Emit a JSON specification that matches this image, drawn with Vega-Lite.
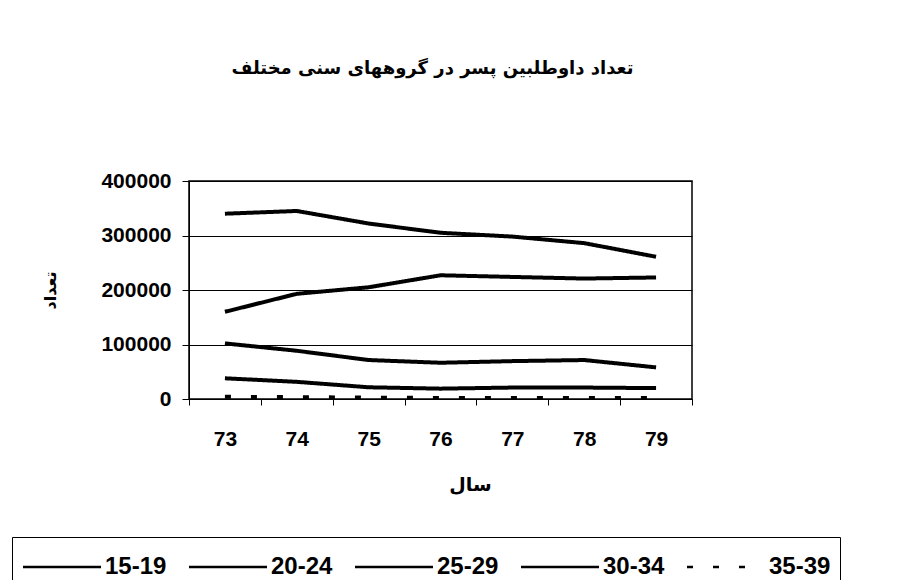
{
  "$schema": "https://vega.github.io/schema/vega-lite/v6.json",
  "width": 503,
  "height": 218,
  "autosize": {"type": "none"},
  "padding": {"left": 189, "top": 181, "right": 229, "bottom": 181},
  "background": "white",
  "config": {
    "view": {"stroke": "black", "strokeWidth": 1.5},
    "font": "Liberation Sans"
  },
  "title": {
    "text": "تعداد داوطلبین پسر در گروههای سنی مختلف",
    "font": "DejaVu Sans",
    "fontSize": 18,
    "fontWeight": "bold",
    "color": "black",
    "anchor": "middle",
    "frame": "group",
    "offset": 92,
    "dx": -8
  },
  "data": {
    "values": [
      {"year": "73", "group": "15-19", "count": 340000},
      {"year": "74", "group": "15-19", "count": 345000},
      {"year": "75", "group": "15-19", "count": 322000},
      {"year": "76", "group": "15-19", "count": 305000},
      {"year": "77", "group": "15-19", "count": 298000},
      {"year": "78", "group": "15-19", "count": 286000},
      {"year": "79", "group": "15-19", "count": 261000},
      {"year": "73", "group": "20-24", "count": 160000},
      {"year": "74", "group": "20-24", "count": 193000},
      {"year": "75", "group": "20-24", "count": 205000},
      {"year": "76", "group": "20-24", "count": 227000},
      {"year": "77", "group": "20-24", "count": 224000},
      {"year": "78", "group": "20-24", "count": 221000},
      {"year": "79", "group": "20-24", "count": 223000},
      {"year": "73", "group": "25-29", "count": 102000},
      {"year": "74", "group": "25-29", "count": 88500},
      {"year": "75", "group": "25-29", "count": 71500},
      {"year": "76", "group": "25-29", "count": 66500},
      {"year": "77", "group": "25-29", "count": 69500},
      {"year": "78", "group": "25-29", "count": 71500},
      {"year": "79", "group": "25-29", "count": 58000},
      {"year": "73", "group": "30-34", "count": 38000},
      {"year": "74", "group": "30-34", "count": 31500},
      {"year": "75", "group": "30-34", "count": 21500},
      {"year": "76", "group": "30-34", "count": 19000},
      {"year": "77", "group": "30-34", "count": 21000},
      {"year": "78", "group": "30-34", "count": 21000},
      {"year": "79", "group": "30-34", "count": 20000},
      {"year": "73", "group": "35-39", "count": 4000},
      {"year": "74", "group": "35-39", "count": 3500},
      {"year": "75", "group": "35-39", "count": 2500},
      {"year": "76", "group": "35-39", "count": 2000},
      {"year": "77", "group": "35-39", "count": 2000},
      {"year": "78", "group": "35-39", "count": 2000},
      {"year": "79", "group": "35-39", "count": 2000}
    ]
  },
  "mark": {"type": "line", "strokeWidth": 4, "color": "black"},
  "encoding": {
    "x": {
      "field": "year",
      "type": "ordinal",
      "scale": {"type": "band", "paddingInner": 0, "paddingOuter": 0},
      "axis": {
        "labelAngle": 0,
        "labelFont": "Liberation Sans",
        "labelFontSize": 21,
        "labelFontWeight": "bold",
        "labelColor": "black",
        "labelPadding": 23,
        "tickBand": "extent",
        "tickSize": 6,
        "tickColor": "black",
        "domainColor": "black",
        "title": "سال",
        "titleFont": "DejaVu Sans",
        "titleFontSize": 19,
        "titleFontWeight": "bold",
        "titleColor": "black",
        "titleX": 281,
        "titleY": 85,
        "titleBaseline": "middle"
      }
    },
    "y": {
      "field": "count",
      "type": "quantitative",
      "scale": {"domain": [0, 400000], "nice": false},
      "axis": {
        "values": [0, 100000, 200000, 300000, 400000],
        "format": "d",
        "labelFont": "Liberation Sans",
        "labelFontSize": 21,
        "labelFontWeight": "bold",
        "labelColor": "black",
        "labelPadding": 11,
        "tickSize": 7,
        "tickColor": "black",
        "domainColor": "black",
        "gridColor": "black",
        "gridWidth": 1,
        "gridOpacity": 1,
        "title": "تعداد",
        "titleFont": "DejaVu Sans",
        "titleFontSize": 16,
        "titleFontWeight": "bold",
        "titleColor": "black",
        "titleX": -139,
        "titleY": 109,
        "titleBaseline": "middle"
      }
    },
    "strokeDash": {
      "field": "group",
      "type": "nominal",
      "scale": {
        "domain": ["15-19", "20-24", "25-29", "30-34", "35-39"],
        "range": [[1, 0], [1, 0], [1, 0], [1, 0], [6, 20]]
      },
      "legend": {
        "orient": "none",
        "legendX": -177,
        "legendY": 356,
        "direction": "horizontal",
        "columns": 5,
        "title": null,
        "symbolType": "M-2,0H2",
        "symbolSize": 1521,
        "symbolStrokeWidth": 2.5,
        "symbolStrokeColor": "black",
        "symbolOffset": 20,
        "labelFont": "Liberation Sans",
        "labelFontSize": 24,
        "labelFontWeight": "bold",
        "labelColor": "black",
        "labelOffset": 22,
        "columnPadding": 17,
        "strokeColor": "black",
        "padding": 9
      }
    }
  }
}
